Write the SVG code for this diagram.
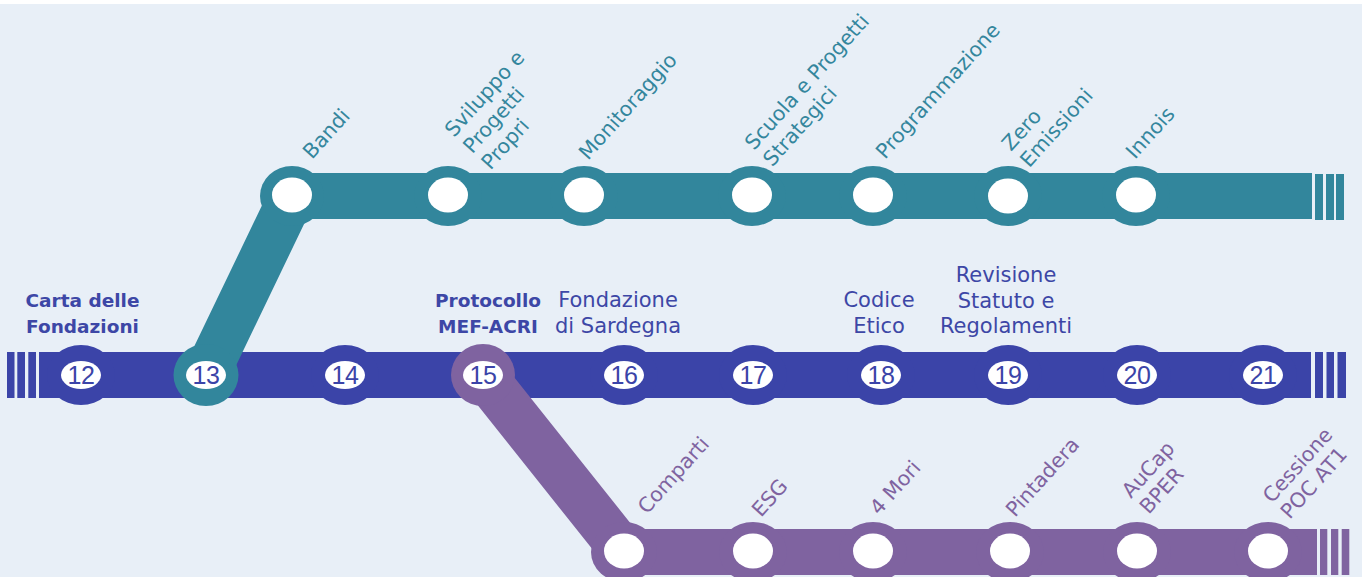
<svg xmlns="http://www.w3.org/2000/svg" width="1362" height="577" viewBox="0 0 1362 577">
<style>
.bg{fill:#E8EFF7}
.blue{fill:#3B44A8}
.teal{fill:#32869C}
.purple{fill:#7F63A0}
.w{fill:#FFFFFF}
.num{font-family:"Liberation Sans",Arial,sans-serif;font-size:25px;fill:#3B44A8;text-anchor:middle;letter-spacing:-0.5px}
.lb{font-family:"DejaVu Sans","Liberation Sans",sans-serif;font-size:21px;fill:#3D47A6;text-anchor:middle}
.lbb{font-family:"DejaVu Sans","Liberation Sans",sans-serif;font-size:18.5px;font-weight:bold;fill:#3D47A6;text-anchor:middle}
.rt{font-family:"DejaVu Sans","Liberation Sans",sans-serif;font-size:20.5px;fill:#34869D}
.rp{font-family:"DejaVu Sans","Liberation Sans",sans-serif;font-size:20.5px;fill:#7F63A0}
</style>
<rect x="0" y="0" width="1362" height="577" fill="#FFFFFF"/>
<rect class="bg" x="0" y="4" width="1362" height="573"/>

<g id="connectors">
  <!-- blue line -->
  <g class="blue">
    <rect x="7" y="352" width="7.5" height="46"/>
    <rect x="17.3" y="352" width="7.7" height="46"/>
    <rect x="28.3" y="352" width="7.7" height="46"/>
    <rect x="39" y="352" width="1272" height="46"/>
    <rect x="1315" y="352" width="8" height="46"/>
    <rect x="1326.5" y="352" width="7.5" height="46"/>
    <rect x="1337.5" y="352" width="8.5" height="46"/>
  </g>
  <!-- teal line -->
  <path d="M206,375 L292,196 L1312,196" fill="none" stroke="#32869C" stroke-width="46" stroke-linejoin="round"/>
  <g class="teal">
    <rect x="1315" y="174" width="8" height="46"/>
    <rect x="1326" y="174" width="8" height="46"/>
    <rect x="1336" y="174" width="8" height="46"/>
  </g>
  <!-- purple line -->
  <path d="M483,375 L624,552 L1317,552" fill="none" stroke="#7F63A0" stroke-width="46" stroke-linejoin="round"/>
  <g class="purple">
    <rect x="1320" y="529" width="7.3" height="46"/>
    <rect x="1331" y="529" width="7.3" height="46"/>
    <rect x="1341.7" y="529" width="7.6" height="46"/>
  </g>
</g>

<!-- blue line stations -->
<g id="s12">
  <ellipse class="blue" cx="81" cy="375" rx="34" ry="30"/>
  <ellipse class="w" cx="81" cy="375" rx="20" ry="14"/>
  <text class="num" x="81" y="384">12</text>
  <text class="lbb" x="82.5" y="307">Carta delle</text>
  <text class="lbb" x="82.5" y="333">Fondazioni</text>
</g>
<g id="s13">
  <ellipse class="teal" cx="206" cy="375" rx="32.5" ry="31"/>
  <ellipse class="w" cx="206" cy="375" rx="20" ry="14"/>
  <text class="num" x="206" y="384">13</text>
</g>
<g id="s14">
  <ellipse class="blue" cx="345" cy="375" rx="34" ry="30"/>
  <ellipse class="w" cx="345" cy="375" rx="20" ry="14"/>
  <text class="num" x="345" y="384">14</text>
</g>
<g id="s15">
  <ellipse class="purple" cx="483" cy="375" rx="32" ry="31"/>
  <ellipse class="w" cx="483" cy="375" rx="20" ry="14"/>
  <text class="num" x="483" y="384">15</text>
  <text class="lbb" x="488" y="307">Protocollo</text>
  <text class="lbb" x="488" y="333">MEF-ACRI</text>
</g>
<g id="s16">
  <ellipse class="blue" cx="624" cy="375" rx="34" ry="30"/>
  <ellipse class="w" cx="624" cy="375" rx="20" ry="14"/>
  <text class="num" x="624" y="384">16</text>
  <text class="lb" x="618" y="307">Fondazione</text>
  <text class="lb" x="618" y="333">di Sardegna</text>
</g>
<g id="s17">
  <ellipse class="blue" cx="753" cy="375" rx="34" ry="30"/>
  <ellipse class="w" cx="753" cy="375" rx="20" ry="14"/>
  <text class="num" x="753" y="384">17</text>
</g>
<g id="s18">
  <ellipse class="blue" cx="881" cy="375" rx="34" ry="30"/>
  <ellipse class="w" cx="881" cy="375" rx="20" ry="14"/>
  <text class="num" x="881" y="384">18</text>
  <text class="lb" x="879" y="307">Codice</text>
  <text class="lb" x="879" y="333">Etico</text>
</g>
<g id="s19">
  <ellipse class="blue" cx="1008" cy="375" rx="34" ry="30"/>
  <ellipse class="w" cx="1008" cy="375" rx="20" ry="14"/>
  <text class="num" x="1008" y="384">19</text>
  <text class="lb" x="1006" y="282">Revisione</text>
  <text class="lb" x="1006" y="307.5">Statuto e</text>
  <text class="lb" x="1006" y="333">Regolamenti</text>
</g>
<g id="s20">
  <ellipse class="blue" cx="1137" cy="375" rx="34" ry="30"/>
  <ellipse class="w" cx="1137" cy="375" rx="20" ry="14"/>
  <text class="num" x="1137" y="384">20</text>
</g>
<g id="s21">
  <ellipse class="blue" cx="1263" cy="375" rx="34" ry="30"/>
  <ellipse class="w" cx="1263" cy="375" rx="20" ry="14"/>
  <text class="num" x="1263" y="384">21</text>
</g>

<!-- teal line stations -->
<g id="t-bandi">
  <ellipse class="teal" cx="292" cy="196" rx="32" ry="30"/>
  <ellipse class="w" cx="292" cy="195" rx="20" ry="17.5"/>
  <text class="rt" transform="translate(312,160) rotate(-48)">Bandi</text>
</g>
<g id="t-sviluppo">
  <ellipse class="teal" cx="448" cy="196" rx="34" ry="30"/>
  <ellipse class="w" cx="448" cy="195" rx="20" ry="17.5"/>
  <text class="rt" transform="translate(454,138) rotate(-48)"><tspan x="0" y="0">Sviluppo e</tspan><tspan x="0" y="24.5">Progetti</tspan><tspan x="0" y="49">Propri</tspan></text>
</g>
<g id="t-monitoraggio">
  <ellipse class="teal" cx="584" cy="196" rx="34" ry="30"/>
  <ellipse class="w" cx="584" cy="195" rx="20" ry="17.5"/>
  <text class="rt" transform="translate(588,161) rotate(-48)">Monitoraggio</text>
</g>
<g id="t-scuola">
  <ellipse class="teal" cx="752" cy="196" rx="34" ry="30"/>
  <ellipse class="w" cx="752" cy="195" rx="20" ry="17.5"/>
  <text class="rt" transform="translate(754,151) rotate(-48)"><tspan x="0" y="0">Scuola e Progetti</tspan><tspan x="0" y="24.5">Strategici</tspan></text>
</g>
<g id="t-programmazione">
  <ellipse class="teal" cx="873" cy="196" rx="34" ry="30"/>
  <ellipse class="w" cx="873" cy="195" rx="20" ry="17.5"/>
  <text class="rt" transform="translate(885,160) rotate(-48)">Programmazione</text>
</g>
<g id="t-zero">
  <ellipse class="teal" cx="1008" cy="196" rx="34" ry="30"/>
  <ellipse class="w" cx="1008" cy="196" rx="20" ry="17.5"/>
  <text class="rt" transform="translate(1011,152) rotate(-48)"><tspan x="0" y="0">Zero</tspan><tspan x="0" y="24.5">Emissioni</tspan></text>
</g>
<g id="t-innois">
  <ellipse class="teal" cx="1136" cy="196" rx="34" ry="30"/>
  <ellipse class="w" cx="1136" cy="195" rx="20" ry="17.5"/>
  <text class="rt" transform="translate(1135,160) rotate(-48)">Innois</text>
</g>

<!-- purple line stations -->
<g id="p-comparti">
  <ellipse class="purple" cx="624" cy="552" rx="33" ry="30"/>
  <ellipse class="w" cx="624" cy="551" rx="20" ry="17.5"/>
  <text class="rp" transform="translate(647,515) rotate(-48)">Comparti</text>
</g>
<g id="p-esg">
  <ellipse class="purple" cx="753" cy="552" rx="34" ry="30"/>
  <ellipse class="w" cx="753" cy="551" rx="20" ry="17.5"/>
  <text class="rp" transform="translate(761,518) rotate(-48)">ESG</text>
</g>
<g id="p-4mori">
  <ellipse class="purple" cx="873" cy="552" rx="34" ry="30"/>
  <ellipse class="w" cx="873" cy="551" rx="20" ry="17.5"/>
  <text class="rp" transform="translate(879,516) rotate(-48)">4 Mori</text>
</g>
<g id="p-pintadera">
  <ellipse class="purple" cx="1010" cy="552" rx="34" ry="30"/>
  <ellipse class="w" cx="1010" cy="551" rx="20" ry="17.5"/>
  <text class="rp" transform="translate(1015,518) rotate(-48)">Pintadera</text>
</g>
<g id="p-aucap">
  <ellipse class="purple" cx="1137" cy="552" rx="34" ry="30"/>
  <ellipse class="w" cx="1137" cy="551" rx="20" ry="17.5"/>
  <text class="rp" transform="translate(1131,499) rotate(-48)"><tspan x="0" y="0">AuCap</tspan><tspan x="0" y="24">BPER</tspan></text>
</g>
<g id="p-cessione">
  <ellipse class="purple" cx="1268" cy="552" rx="34" ry="30"/>
  <ellipse class="w" cx="1268" cy="551" rx="20" ry="17.5"/>
  <text class="rp" transform="translate(1272,504) rotate(-48)"><tspan x="0" y="0">Cessione</tspan><tspan x="0" y="24">POC AT1</tspan></text>
</g>
</svg>
